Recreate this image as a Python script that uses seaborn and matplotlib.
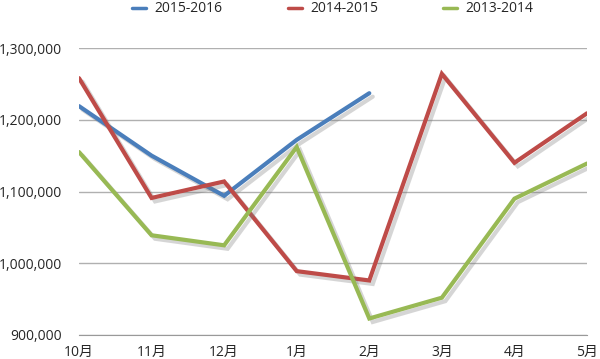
import matplotlib
matplotlib.use("Agg")
import matplotlib.pyplot as plt
import matplotlib.patheffects as pe
import matplotlib.ticker as mticker
import seaborn as sns
import pandas as pd

months = ["10月", "11月", "12月", "1月", "2月", "3月", "4月", "5月"]
series_names = ["2015-2016", "2014-2015", "2013-2014"]
s2015_2016 = [1219000, 1150000, 1094000, 1172000, 1237000]
s2014_2015 = [1258000, 1091000, 1114000, 989000, 976000, 1264000, 1140000, 1209000]
s2013_2014 = [1155000, 1039000, 1025000, 1162000, 923000, 952000, 1090000, 1139000]
colors = ["#4a7ebb", "#be4b48", "#98b954"]

rows = []
for name, vals in zip(series_names, [s2015_2016, s2014_2015, s2013_2014]):
    for m, v in zip(months, vals):
        rows.append({"month": m, "value": v, "season": name})
df = pd.DataFrame(rows)

sns.set_style("white")
plt.rcParams["font.family"] = ["Open Sans", "Noto Sans CJK SC"]

fig = plt.figure(figsize=(6, 3.59), dpi=100)
ax = fig.add_axes([79 / 600, 1 - 335 / 359, 508 / 600, 287 / 359])

sns.lineplot(data=df, x="month", y="value", hue="season", hue_order=series_names,
             palette=colors, sort=False, linewidth=3.0, ax=ax, legend=True)

for line in ax.get_lines():
    line.set_path_effects([pe.SimpleLineShadow(offset=(2.5, -2.5), shadow_color="#777777", alpha=0.3),
                           pe.Normal()])
    line.set_solid_joinstyle("miter")

ax.set_ylim(900000, 1300000)
ax.set_xlim(0, 7)
ax.yaxis.set_major_locator(mticker.MultipleLocator(100000))
ax.yaxis.set_major_formatter(mticker.FuncFormatter(lambda v, p: f"{int(v):,}"))
ax.grid(axis="y", color="#b0b0b0", linewidth=1)
ax.set_axisbelow(True)
for side in ["top", "right", "left"]:
    ax.spines[side].set_visible(False)
ax.spines["bottom"].set_color("#999999")
ax.tick_params(axis="x", direction="out", length=3, color="#999999", labelsize=10, pad=4)
ax.tick_params(axis="y", length=0, labelsize=10, pad=12)
ax.set_xlabel("")
ax.set_ylabel("")

ax.legend(loc="center", bbox_to_anchor=(0.5, 1.136), ncol=3, frameon=False,
          handlelength=1.0, columnspacing=4.7, fontsize=10, handletextpad=0.6)
for lh in ax.get_legend().get_lines():
    lh.set_linewidth(2.5)
    lh.set_path_effects([])

fig.savefig("out.png", dpi=100)
